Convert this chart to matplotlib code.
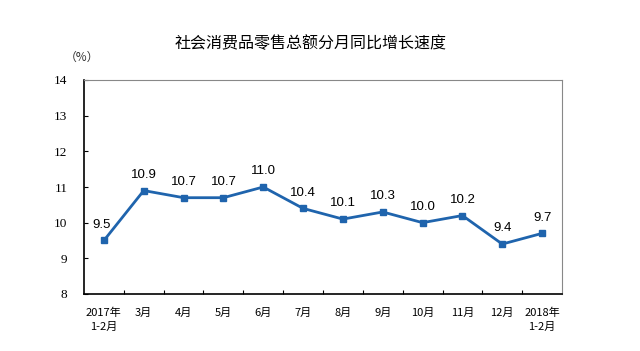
import matplotlib
matplotlib.use('Agg')
import matplotlib.pyplot as plt

plt.rcParams['font.family'] = ['Noto Sans CJK SC', 'DejaVu Sans']

# data
months = ['2017年\n1-2月', '3月', '4月', '5月', '6月', '7月', '8月', '9月',
          '10月', '11月', '12月', '2018年\n1-2月']
growth = [9.5, 10.9, 10.7, 10.7, 11.0, 10.4, 10.1, 10.3, 10.0, 10.2, 9.4, 9.7]
yticks = [8, 9, 10, 11, 12, 13, 14]

line_color = '#1f64ad'

fig = plt.figure(figsize=(6.4, 3.51), dpi=100)
ax = fig.add_axes([84/640, 1-294/351, (562-84)/640, (294-80)/351])

x = list(range(len(growth)))
ax.plot(x, growth, color=line_color, lw=2, marker='s', ms=4.5, zorder=3)
for xi, v in zip(x, growth):
    dx = -2 if xi == 0 else 0
    ax.annotate('%.1f' % v, (xi, v), xytext=(dx, 7), textcoords='offset points',
                ha='center', va='bottom', fontsize=9.5, family='Liberation Sans')

ax.set_xlim(-0.5, len(growth) - 0.5)
ax.set_ylim(8, 14)
ax.set_yticks(yticks)
ax.set_yticklabels([str(t) for t in yticks], family='Liberation Serif', fontsize=9.5)
ax.tick_params(axis='y', direction='in', length=3, pad=12)

# ticks on category boundaries, labels centered
ax.set_xticks([i + 0.5 for i in x[:-1]])
ax.set_xticklabels([])
ax.set_xticks(x, minor=True)
ax.set_xticklabels(months, minor=True, fontsize=8, linespacing=1.5, va='top')
ax.tick_params(axis='x', which='major', direction='in', length=3)
ax.tick_params(axis='x', which='minor', length=0, pad=10)

for s in ['left', 'bottom']:
    ax.spines[s].set_color('black')
    ax.spines[s].set_linewidth(1.2)
for s in ['top', 'right']:
    ax.spines[s].set_color('#888888')
    ax.spines[s].set_linewidth(0.8)

fig.text(311/640, 1-44/351, '社会消费品零售总额分月同比增长速度', ha='center', va='center', fontsize=11.5)
fig.text(82/640, 1-57/351, '（%）', ha='center', va='center', fontsize=8.5, color='#333333')

fig.savefig('out.png', dpi=100)
